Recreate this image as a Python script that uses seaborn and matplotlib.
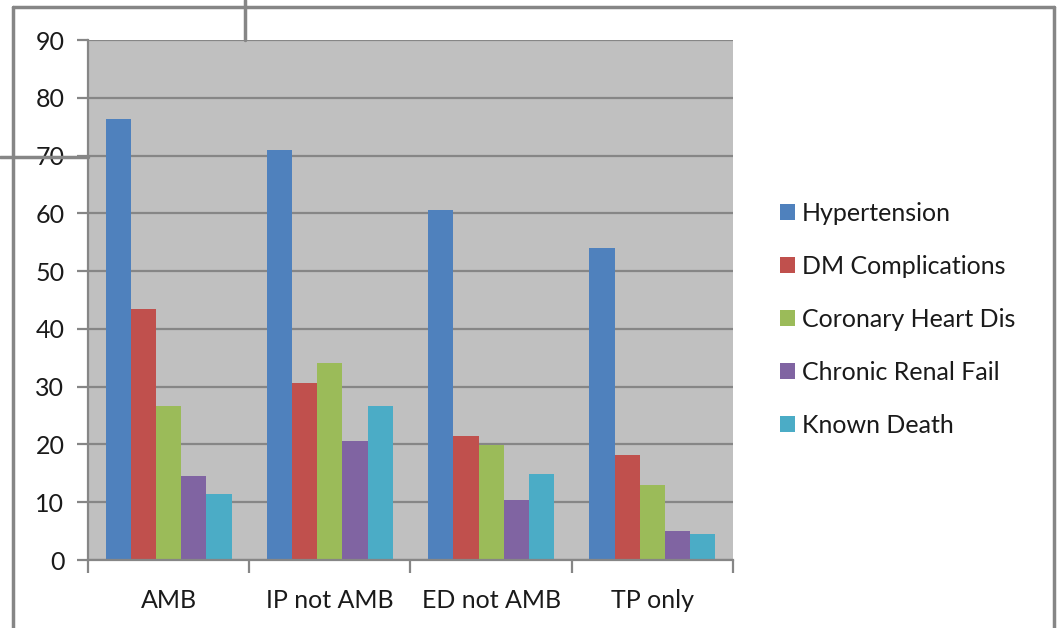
import matplotlib
matplotlib.use("Agg")
import matplotlib.pyplot as plt
from matplotlib.lines import Line2D
import seaborn as sns
import pandas as pd

categories = ["AMB", "IP not AMB", "ED not AMB", "TP only"]
hypertension = [76.4, 70.9, 60.5, 54.0]
dm_complications = [43.4, 30.7, 21.4, 18.2]
coronary_heart = [26.6, 34.1, 19.9, 12.9]
chronic_renal = [14.6, 20.6, 10.3, 5.0]
known_death = [11.5, 26.6, 14.9, 4.5]

series_names = ["Hypertension", "DM Complications", "Coronary Heart Dis",
                "Chronic Renal Fail", "Known Death"]
series_values = [hypertension, dm_complications, coronary_heart,
                 chronic_renal, known_death]
colors = ["#4F81BD", "#C0504D", "#9BBB59", "#8064A2", "#4BACC6"]
y_ticks = [0, 10, 20, 30, 40, 50, 60, 70, 80, 90]

rows = []
for name, vals in zip(series_names, series_values):
    for cat, v in zip(categories, vals):
        rows.append({"Category": cat, "Series": name, "Value": v})
df = pd.DataFrame(rows)

sns.set_theme(style="white")
plt.rcParams["font.family"] = ["Lato", "DejaVu Sans"]

grid_c = "#868686"
text_c = "#1a1a1a"
fig = plt.figure(figsize=(10.57, 6.28), dpi=100)
ax = fig.add_axes([88 / 1057, 1 - 560 / 628, 645 / 1057, 520 / 628])
ax.set_facecolor("#C0C0C0")

sns.barplot(data=df, x="Category", y="Value", hue="Series",
            hue_order=series_names, palette=colors, width=0.78,
            saturation=1, ax=ax, legend=True, edgecolor="none")

ax.set_ylim(0, 90)
ax.set_xlim(-0.5, 3.5)
ax.set_yticks(y_ticks)
ax.yaxis.grid(True, color=grid_c, linewidth=1.6)
ax.set_axisbelow(True)
ax.set_xlabel("")
ax.set_ylabel("")

for side in ["top", "right"]:
    ax.spines[side].set_visible(False)
for side in ["left", "bottom"]:
    ax.spines[side].set_color(grid_c)
    ax.spines[side].set_linewidth(1.6)

ax.tick_params(axis="y", which="major", length=8, width=1.6, color=grid_c,
               labelsize=18, labelcolor=text_c, pad=9, left=True)
ax.tick_params(axis="x", which="major", length=0, labelsize=18,
               labelcolor=text_c, pad=21)
ax.set_xticks([-0.5, 0.5, 1.5, 2.5, 3.5], minor=True)
ax.tick_params(axis="x", which="minor", length=9, width=1.6, color=grid_c,
               bottom=True)

handles, labels = ax.get_legend_handles_labels()
ax.legend(handles, labels, loc="center left",
          bbox_to_anchor=(757 / 1057, 1 - 319 / 628),
          bbox_transform=fig.transFigure, frameon=False, fontsize=18,
          handlelength=0.6, handleheight=0.6, handletextpad=0.3,
          labelspacing=1.2, labelcolor=text_c)

# outer chart frame and connector strokes
frame_kw = dict(color=grid_c, linewidth=2.5, transform=fig.transFigure)
fig.add_artist(Line2D([13 / 1057, 13 / 1057], [0, 1 - 7 / 628], **frame_kw))
fig.add_artist(Line2D([13 / 1057, 1054 / 1057], [1 - 7 / 628, 1 - 7 / 628], **frame_kw))
fig.add_artist(Line2D([1054 / 1057, 1054 / 1057], [0, 1 - 7 / 628], **frame_kw))
fig.add_artist(Line2D([245 / 1057, 245 / 1057], [1, 1 - 40 / 628], **frame_kw))
fig.add_artist(Line2D([0, 88 / 1057], [1 - 157 / 628, 1 - 157 / 628], **frame_kw))

fig.savefig("out.png", dpi=100, facecolor="white")
